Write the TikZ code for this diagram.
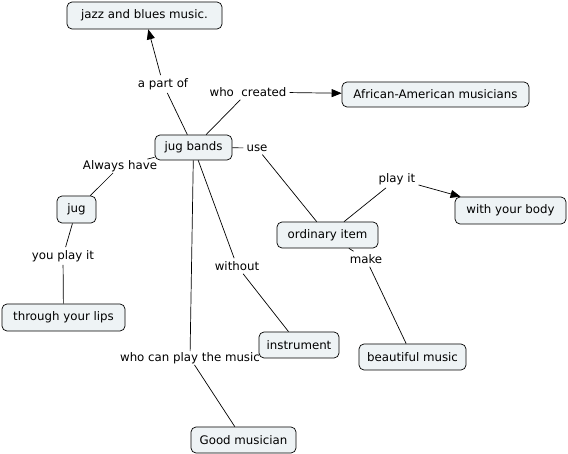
\documentclass[tikz,border=0pt]{standalone}
\usepackage{fontspec}
\setmainfont{DejaVu Sans}
\usetikzlibrary{arrows.meta}
\definecolor{boxfill}{RGB}{238,243,245}
\begin{document}
\begin{tikzpicture}[x=1pt,y=-1pt,
  concept/.style={draw=black, fill=boxfill, rounded corners=5pt, line width=0.7pt,
    inner sep=0pt, font=\fontsize{11.8}{13}\selectfont},
  lbl/.style={inner sep=3pt, font=\fontsize{11.8}{13}\selectfont},
  conn/.style={line width=0.7pt},
  arr/.style={conn, -{Triangle[length=10pt,width=8pt]}}]
\useasboundingbox (0,0) rectangle (568,454);
\fill[white] (0,0) rectangle (568,454);
% concepts
\node[concept, minimum width=155pt, minimum height=27pt] (jazz) at (144.5,15.5) {jazz and blues music.};
\node[concept, minimum width=187pt, minimum height=25pt] (afr) at (435.5,94.5) {African-American musicians};
\node[concept, minimum width=77pt, minimum height=25pt] (jb) at (193.5,147.5) {jug bands};
\node[concept, minimum width=39pt, minimum height=27pt] (jug) at (76.5,209.5) {jug};
\node[concept, minimum width=123pt, minimum height=27pt] (lips) at (63.5,317.5) {through your lips};
\node[concept, minimum width=101pt, minimum height=26pt] (oi) at (327.5,235) {ordinary item};
\node[concept, minimum width=111pt, minimum height=27pt] (body) at (510.5,210.5) {with your body};
\node[concept, minimum width=80pt, minimum height=26pt] (ins) at (299,345) {instrument};
\node[concept, minimum width=107pt, minimum height=26pt] (bm) at (412.5,357) {beautiful music};
\node[concept, minimum width=105pt, minimum height=26pt] (gm) at (243.5,440) {Good musician};
% labels
\node[lbl] (apo) at (163,84) {a part of};
\node[lbl] (wc) at (248,92) {who\ \ created};
\node[lbl] (use) at (257,148) {use};
\node[lbl, inner sep=1pt] (ah) at (120,166) {Always have};
\node[lbl] (ypi) at (63,256) {you play it};
\node[lbl] (pi) at (397,179) {play it};
\node[lbl] (mk) at (366,259) {make};
\node[lbl] (wo) at (237,266) {without};
\node[lbl, inner sep=1pt] (wcp) at (190,358) {who can play the music};
% connectors
\draw[conn] (jb) -- (apo);
\draw[arr] (apo) -- (jazz);
\draw[conn] (jb) -- (wc);
\draw[arr] (wc) -- (afr);
\draw[conn] (jb) -- (use);
\draw[conn] (use) -- (oi);
\draw[conn] (oi) -- (pi);
\draw[arr] (pi) -- (body);
\draw[conn] (oi) -- (mk);
\draw[conn] (mk) -- (bm);
\draw[conn] (jb) -- (ah);
\draw[conn] (ah) -- (jug);
\draw[conn] (jug) -- (ypi);
\draw[conn] (ypi) -- (lips);
\draw[conn] (jb) -- (wo);
\draw[conn] (wo) -- (ins);
\draw[conn] (jb) -- (wcp);
\draw[conn] (wcp) -- (gm);
\end{tikzpicture}
\end{document}
